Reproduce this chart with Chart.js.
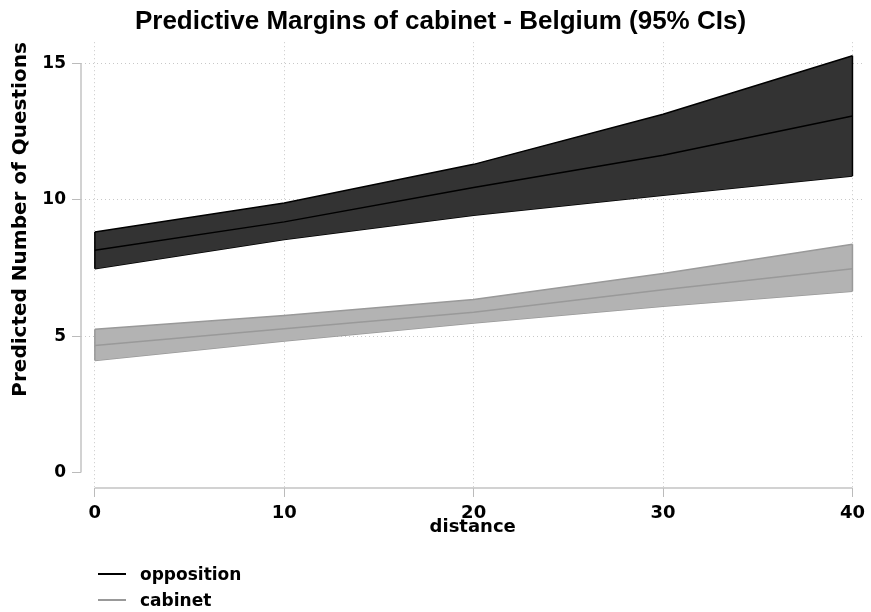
<!DOCTYPE html>
<html lang="en">
<head>
<meta charset="UTF-8" />
<title>Predictive Margins of cabinet - Belgium</title>
<script src="https://cdn.jsdelivr.net/npm/chart.js"></script>
<style>
    body { margin: 0; background: #fff; }
    .wrap { position: relative; width: 871px; height: 612px; }
    #chart { position: absolute; left: 0; top: 0; }
    .legend { position: absolute; left: 98px; top: 561px; font: bold 17px "DejaVu Sans", sans-serif; color: #000; }
    .legend .row { display: flex; align-items: center; height: 26px; }
    .legend .swatch { width: 28px; height: 2px; margin-right: 14px; }
</style>
</head>
<body>
<div class="wrap">
    <canvas id="chart" width="871" height="612"></canvas>
    <div class="legend" id="legend"></div>
</div>
<script>
// distance values
const distance = [0, 10, 20, 30, 40];

// opposition: prediction and 95% CI
const oppMid = [8.15, 9.19, 10.45, 11.63, 13.07];
const oppLo  = [7.47, 8.54, 9.43, 10.17, 10.87];
const oppHi  = [8.82, 9.88, 11.30, 13.14, 15.28];

// cabinet: prediction and 95% CI
const cabMid = [4.66, 5.27, 5.88, 6.70, 7.47];
const cabLo  = [4.11, 4.82, 5.48, 6.10, 6.65];
const cabHi  = [5.25, 5.76, 6.34, 7.30, 8.37];

const xTicks = [0, 10, 20, 30, 40];
const yTicks = [0, 5, 10, 15];
const seriesNames = ['opposition', 'cabinet'];

const pts = arr => arr.map((v, i) => ({ x: distance[i], y: v }));
const last = distance.length - 1;
const edge = (lo, hi, i) => [{ x: distance[i], y: lo[i] }, { x: distance[i], y: hi[i] }];

const OPP_FILL = '#333333', OPP_LINE = '#000000';
const CAB_FILL = '#b3b3b3', CAB_LINE = '#999999';

// order: higher is drawn first, so the prediction lines (order 0) sit on top of the bands
function band(data, color, fill, order) {
    return {
        data: data, borderColor: color, borderWidth: 1.5, pointRadius: 0, tension: 0,
        fill: fill, order: order,
        backgroundColor: fill ? (color === OPP_LINE ? OPP_FILL : CAB_FILL) : 'transparent'
    };
}

const datasets = [
    band(pts(oppHi), OPP_LINE, '+1', 2),
    band(pts(oppLo), OPP_LINE, false, 2),
    band(pts(oppMid), OPP_LINE, false, 0),
    band(edge(oppLo, oppHi, 0), OPP_LINE, false, 1),
    band(edge(oppLo, oppHi, last), OPP_LINE, false, 1),
    band(pts(cabHi), CAB_LINE, '+1', 2),
    band(pts(cabLo), CAB_LINE, false, 2),
    band(pts(cabMid), CAB_LINE, false, 0),
    band(edge(cabLo, cabHi, 0), CAB_LINE, false, 1),
    band(edge(cabLo, cabHi, last), CAB_LINE, false, 1)
];

// axis lines only between first and last tick (stata style)
const axisLines = {
    id: 'axisLines',
    beforeDatasetsDraw(chart) {
        const { ctx, chartArea, scales } = chart;
        ctx.save();
        ctx.strokeStyle = '#c4c4c4';
        ctx.lineWidth = 1.5;
        ctx.beginPath();
        ctx.moveTo(chartArea.left, scales.y.getPixelForValue(yTicks[0]));
        ctx.lineTo(chartArea.left, scales.y.getPixelForValue(yTicks[yTicks.length - 1]));
        ctx.moveTo(scales.x.getPixelForValue(xTicks[0]), chartArea.bottom);
        ctx.lineTo(scales.x.getPixelForValue(xTicks[xTicks.length - 1]), chartArea.bottom);
        ctx.stroke();
        ctx.restore();
    }
};

const lbl = { family: '"DejaVu Sans", sans-serif', weight: 'bold' };

new Chart(document.getElementById('chart'), {
    type: 'line',
    data: { datasets: datasets },
    options: {
        responsive: false,
        animation: false,
        layout: { padding: { left: 11, right: 1, top: 0, bottom: 74 } },
        plugins: {
            legend: { display: false },
            tooltip: { enabled: false },
            title: {
                display: true,
                text: 'Predictive Margins of cabinet - Belgium (95% CIs)',
                color: '#000',
                font: { family: '"Liberation Sans", Arial, sans-serif', size: 26, weight: 'bold', lineHeight: 1.2 },
                padding: { top: 6, bottom: 5 }
            }
        },
        scales: {
            x: {
                type: 'linear',
                min: -0.73,
                max: 40.63,
                afterBuildTicks: s => { s.ticks = xTicks.map(v => ({ value: v })); },
                afterFit: s => { s.height = 50; },
                border: { display: false, dash: [1, 3] },
                grid: { color: '#c8c8c8', tickColor: '#bbbbbb', tickLength: 9, lineWidth: 1 },
                ticks: { color: '#000', font: { ...lbl, size: 18 }, padding: 6, maxRotation: 0 },
                title: { display: true, text: 'distance', color: '#000', font: { ...lbl, size: 18, lineHeight: 1 }, padding: { top: 0, bottom: 2 } }
            },
            y: {
                min: -0.57,
                max: 15.78,
                afterBuildTicks: s => { s.ticks = yTicks.map(v => ({ value: v })); },
                afterFit: s => { s.width = 70; },
                border: { display: false, dash: [1, 3] },
                grid: {
                    color: c => (c.tick && c.tick.value === 0) ? 'rgba(0,0,0,0)' : '#c8c8c8',
                    tickColor: '#bbbbbb', tickLength: 9, lineWidth: 1
                },
                ticks: { color: '#000', font: { ...lbl, size: 17 }, padding: 6 },
                title: { display: true, text: 'Predicted Number of Questions', align: 'end', color: '#000', font: { ...lbl, size: 20, lineHeight: 1 }, padding: { top: 0, bottom: 0 } }
            }
        }
    },
    plugins: [axisLines]
});

// legend rows (stacked, like the original)
const legendColors = [OPP_LINE, CAB_LINE];
document.getElementById('legend').innerHTML = seriesNames.map((n, i) =>
    `<div class="row"><span class="swatch" style="background:${legendColors[i]}"></span>${n}</div>`).join('');
</script>
</body>
</html>
